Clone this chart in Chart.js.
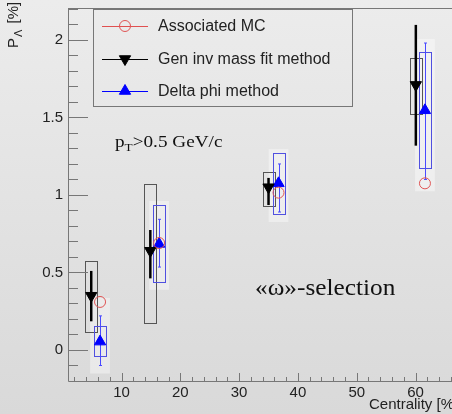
<!DOCTYPE html>
<html>
<head>
<meta charset="utf-8">
<script src="https://cdn.jsdelivr.net/npm/chart.js@4.4.0/dist/chart.umd.min.js"></script>
<style>
html, body { margin: 0; padding: 0; background: #e2e2e2; }
#wrap { width: 452px; height: 414px; }
</style>
</head>
<body>
<div id="wrap"><canvas id="chart" width="452" height="414"></canvas></div>
<script>
// Centrality of each point (the methods are shifted a bit in x)
const centralityGen = [4.85, 14.9, 35.0, 60.05];
const centralityDphi = [6.35, 16.4, 36.7, 61.6];

// Polarization P_Lambda [%]
const polMC = [0.31, 0.69, 1.015, 1.075];
const polGen = [0.35, 0.64, 1.05, 1.71];
const polDphi = [0.054, 0.684, 1.075, 1.546];

// Statistical error bars (low / high edge)
const genStatLo = [0.185, 0.462, 0.935, 1.318];
const genStatHi = [0.51, 0.774, 1.11, 2.097];
const dphiStatLo = [-0.10, 0.535, 0.89, 1.10];
const dphiStatHi = [0.22, 0.843, 1.20, 1.98];

// Systematic boxes (low / high edge)
const genSysLo = [0.115, 0.176, 0.925, 1.527];
const genSysHi = [0.576, 1.071, 1.146, 1.886];
const dphiSysLo = [-0.037, 0.44, 0.877, 1.17];
const dphiSysHi = [0.157, 0.935, 1.27, 1.92];

// Axis ticks
const xLabelTicks = [10, 20, 30, 40, 50, 60];
const yLabelTicks = [0, 0.5, 1, 1.5, 2];

const BOX_HALF = 1.0; // half width of systematic boxes, in centrality units

function points(xs, ys) {
    return xs.map((x, i) => ({ x: x, y: ys[i] }));
}

// Draws background, boxes, ROOT-like axes, legend and labels
const rootStyle = {
    id: 'rootStyle',
    beforeDraw(chart) {
        const ctx = chart.ctx;
        const g = ctx.createLinearGradient(0, 0, 0, chart.height);
        g.addColorStop(0, '#ececec');
        g.addColorStop(1, '#d9d9d9');
        ctx.save();
        ctx.fillStyle = g;
        ctx.fillRect(0, 0, chart.width, chart.height);
        ctx.restore();
    },
    beforeDatasetsDraw(chart) {
        const ctx = chart.ctx;
        const xs = chart.scales.x, ys = chart.scales.y;
        ctx.save();

        // faint white halo round the delta phi boxes
        ctx.fillStyle = 'rgba(255,255,255,0.4)';
        centralityDphi.forEach((c, i) => {
            const l = xs.getPixelForValue(c - BOX_HALF) - 4;
            const r = xs.getPixelForValue(c + BOX_HALF) + 4;
            const t = ys.getPixelForValue(Math.max(dphiStatHi[i], dphiSysHi[i], polMC[i])) - 4;
            const b = ys.getPixelForValue(Math.min(dphiStatLo[i], dphiSysLo[i], polMC[i])) + 8;
            ctx.fillRect(l, t, r - l, b - t);
        });

        // gen inv mass: systematic boxes + stat bars
        ctx.lineWidth = 1;
        ctx.strokeStyle = '#555';
        centralityGen.forEach((c, i) => {
            const l = xs.getPixelForValue(c - BOX_HALF);
            const r = xs.getPixelForValue(c + BOX_HALF);
            const t = ys.getPixelForValue(genSysHi[i]);
            const b = ys.getPixelForValue(genSysLo[i]);
            ctx.strokeRect(Math.round(l) + 0.5, Math.round(t) + 0.5, Math.round(r - l), Math.round(b - t));
        });
        ctx.strokeStyle = '#000';
        ctx.lineWidth = 2.5;
        centralityGen.forEach((c, i) => {
            const x = xs.getPixelForValue(c);
            ctx.beginPath();
            ctx.moveTo(x, ys.getPixelForValue(genStatHi[i]));
            ctx.lineTo(x, ys.getPixelForValue(genStatLo[i]));
            ctx.stroke();
        });

        // delta phi: systematic boxes + stat bars
        ctx.lineWidth = 1;
        ctx.strokeStyle = '#5050e0';
        centralityDphi.forEach((c, i) => {
            const l = xs.getPixelForValue(c - BOX_HALF);
            const r = xs.getPixelForValue(c + BOX_HALF);
            const t = ys.getPixelForValue(dphiSysHi[i]);
            const b = ys.getPixelForValue(dphiSysLo[i]);
            ctx.strokeRect(Math.round(l) + 0.5, Math.round(t) + 0.5, Math.round(r - l), Math.round(b - t));
        });
        ctx.strokeStyle = '#4a4aff';
        centralityDphi.forEach((c, i) => {
            const x = Math.round(xs.getPixelForValue(c)) + 0.5;
            const t = ys.getPixelForValue(dphiStatHi[i]);
            const b = ys.getPixelForValue(dphiStatLo[i]);
            ctx.beginPath();
            ctx.moveTo(x, t);
            ctx.lineTo(x, b);
            ctx.moveTo(x - 1.5, t);
            ctx.lineTo(x + 1.5, t);
            ctx.moveTo(x - 1.5, b);
            ctx.lineTo(x + 1.5, b);
            ctx.stroke();
        });
        ctx.restore();
    },
    afterDraw(chart) {
        const ctx = chart.ctx;
        const a = chart.chartArea;
        const xs = chart.scales.x, ys = chart.scales.y;
        ctx.save();

        // frame: left axis, bottom axis, top line
        ctx.strokeStyle = '#777';
        ctx.lineWidth = 1;
        ctx.beginPath();
        ctx.moveTo(a.left + 0.5, a.top + 0.5);
        ctx.lineTo(a.left + 0.5, a.bottom + 0.5);
        ctx.lineTo(a.right, a.bottom + 0.5);
        ctx.moveTo(a.left, a.top + 0.5);
        ctx.lineTo(a.right, a.top + 0.5);
        ctx.stroke();

        // ticks drawn inside the frame
        ctx.beginPath();
        for (let v = 2; v <= xs.max; v += 2) {
            const x = Math.round(xs.getPixelForValue(v)) + 0.5;
            const len = v % 10 === 0 ? 8 : 4;
            ctx.moveTo(x, a.bottom);
            ctx.lineTo(x, a.bottom - len);
        }
        for (let k = -1; k <= 22; k++) {
            const v = k / 10;
            const y = Math.round(ys.getPixelForValue(v)) + 0.5;
            const len = k % 5 === 0 ? 20 : 10;
            ctx.moveTo(a.left, y);
            ctx.lineTo(a.left + len, y);
        }
        ctx.stroke();

        // legend box
        const ds = chart.data.datasets;
        ctx.strokeStyle = '#777';
        ctx.strokeRect(93.5, 9.5, 259, 97);
        const rowsY = [26, 59, 91];
        const lineCol = ['#e05050', '#000', '#0000ff'];
        ds.forEach((d, i) => {
            const y = rowsY[i];
            ctx.strokeStyle = lineCol[i];
            ctx.lineWidth = 1;
            ctx.beginPath();
            ctx.moveTo(102, y + 0.5);
            ctx.lineTo(148, y + 0.5);
            ctx.stroke();
            ctx.fillStyle = d.backgroundColor;
            ctx.strokeStyle = d.borderColor;
            ctx.lineWidth = d.borderWidth;
            Chart.helpers.drawPoint(ctx, {
                pointStyle: d.pointStyle,
                radius: d.pointRadius,
                rotation: d.rotation || 0,
                borderWidth: d.borderWidth
            }, 125, y);
            ctx.fillStyle = '#222';
            ctx.font = '16px "Liberation Sans", Arial, sans-serif';
            ctx.textBaseline = 'middle';
            ctx.textAlign = 'left';
            ctx.fillText(d.label, 158, y + 1);
        });

        // y axis title: P_Lambda [%]
        ctx.save();
        ctx.translate(17.5, 48);
        ctx.rotate(-Math.PI / 2);
        ctx.fillStyle = '#222';
        ctx.textBaseline = 'alphabetic';
        ctx.font = '15px "Liberation Sans", Arial, sans-serif';
        ctx.fillText('P', 0, 0);
        let w = ctx.measureText('P').width;
        ctx.font = '11px "Liberation Sans", Arial, sans-serif';
        ctx.fillText('\u039B', w + 1, 4);
        w += ctx.measureText('\u039B').width + 3;
        ctx.font = '15px "Liberation Sans", Arial, sans-serif';
        ctx.fillText(' [%]', w, 0);
        ctx.restore();

        // x axis title
        ctx.fillStyle = '#222';
        ctx.font = '15px "Liberation Sans", Arial, sans-serif';
        ctx.textBaseline = 'alphabetic';
        ctx.fillText('Centrality [%]', 369, 409);

        // p_T cut label
        ctx.save();
        ctx.translate(115, 147);
        ctx.scale(1.2, 1);
        ctx.fillStyle = '#111';
        ctx.font = '16px "Liberation Serif", "Times New Roman", serif';
        ctx.fillText('p', 0, 0);
        let pw = ctx.measureText('p').width;
        ctx.font = '11px "Liberation Serif", "Times New Roman", serif';
        ctx.fillText('T', pw, 4);
        pw += ctx.measureText('T').width;
        ctx.font = '16px "Liberation Serif", "Times New Roman", serif';
        ctx.fillText('>0.5 GeV/c', pw, 0);
        ctx.restore();

        // selection label
        ctx.save();
        ctx.translate(255, 295);
        ctx.scale(1.1, 1);
        ctx.fillStyle = '#111';
        ctx.font = '23px "Liberation Serif", "Times New Roman", serif';
        ctx.fillText('\u00AB\u03C9\u00BB-selection', 0, 0);
        ctx.restore();

        ctx.restore();
    }
};

new Chart(document.getElementById('chart'), {
    type: 'scatter',
    data: {
        datasets: [{
            label: 'Associated MC',
            data: points(centralityDphi, polMC),
            pointStyle: 'circle',
            pointRadius: 5.5,
            backgroundColor: 'rgba(0,0,0,0)',
            borderColor: '#e05555',
            borderWidth: 1
        }, {
            label: 'Gen inv mass fit method',
            data: points(centralityGen, polGen),
            pointStyle: 'triangle',
            rotation: 180,
            pointRadius: 6.5,
            backgroundColor: '#000',
            borderColor: '#000',
            borderWidth: 1
        }, {
            label: 'Delta phi method',
            data: points(centralityDphi, polDphi),
            pointStyle: 'triangle',
            pointRadius: 6.5,
            backgroundColor: '#0000ff',
            borderColor: '#0000ff',
            borderWidth: 1
        }]
    },
    options: {
        responsive: false,
        animation: false,
        devicePixelRatio: 1,
        layout: { autoPadding: false, padding: { top: 8, right: 0, left: 0, bottom: 0 } },
        plugins: {
            legend: { display: false },
            tooltip: { enabled: false }
        },
        scales: {
            x: {
                type: 'linear',
                min: 0.9,
                max: 66.2,
                grid: { display: false, drawTicks: false, tickLength: 0 },
                border: { display: false },
                afterBuildTicks: (s) => { s.ticks = xLabelTicks.map(v => ({ value: v })); },
                afterFit: (s) => { s.height = 33; s.paddingLeft = 0; s.paddingRight = 0; },
                ticks: {
                    autoSkip: false,
                    maxRotation: 0,
                    padding: 3,
                    color: '#222',
                    font: { family: '"Liberation Sans", Arial, sans-serif', size: 15 },
                    callback: (v) => String(v)
                }
            },
            y: {
                type: 'linear',
                min: -0.2,
                max: 2.206,
                grid: { display: false, drawTicks: false, tickLength: 0 },
                border: { display: false },
                afterBuildTicks: (s) => { s.ticks = yLabelTicks.map(v => ({ value: v })); },
                afterFit: (s) => { s.width = 68; s.paddingTop = 0; s.paddingBottom = 0; },
                ticks: {
                    autoSkip: false,
                    padding: 5,
                    color: '#222',
                    font: { family: '"Liberation Sans", Arial, sans-serif', size: 15 },
                    callback: (v) => String(v)
                }
            }
        }
    },
    plugins: [rootStyle]
});
</script>
</body>
</html>
